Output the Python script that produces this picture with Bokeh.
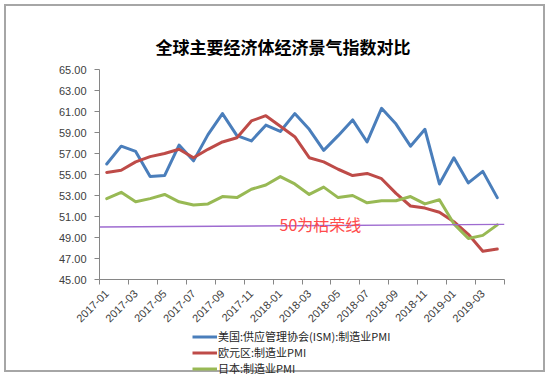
import math
from bokeh.plotting import figure
from bokeh.layouts import column
from bokeh.models import FixedTicker, Legend, LegendItem, Label, Range1d, NumeralTickFormatter
from bokeh.embed import file_html
from bokeh.resources import INLINE

# ---- data ----
months = ["2017-01", "2017-02", "2017-03", "2017-04", "2017-05", "2017-06", "2017-07",
          "2017-08", "2017-09", "2017-10", "2017-11", "2017-12", "2018-01", "2018-02",
          "2018-03", "2018-04", "2018-05", "2018-06", "2018-07", "2018-08", "2018-09",
          "2018-10", "2018-11", "2018-12", "2019-01", "2019-02", "2019-03", "2019-04"]
us_ism = [56.0, 57.7, 57.2, 54.8, 54.9, 57.8, 56.3, 58.8, 60.8, 58.7, 58.2, 59.7, 59.1, 60.8,
          59.3, 57.3, 58.7, 60.2, 58.1, 61.3, 59.8, 57.7, 59.3, 54.1, 56.6, 54.2, 55.3, 52.8]
euro_pmi = [55.2, 55.4, 56.2, 56.7, 57.0, 57.4, 56.6, 57.4, 58.1, 58.5, 60.1, 60.6, 59.6, 58.6,
            56.6, 56.2, 55.5, 54.9, 55.1, 54.6, 53.2, 52.0, 51.8, 51.4, 50.5, 49.3, 47.7, 47.9]
japan_pmi = [52.7, 53.3, 52.4, 52.7, 53.1, 52.4, 52.1, 52.2, 52.9, 52.8, 53.6, 54.0, 54.8, 54.1,
             53.1, 53.8, 52.8, 53.0, 52.3, 52.5, 52.5, 52.9, 52.2, 52.6, 50.3, 48.9, 49.2, 50.2]
series_names = ["美国:供应管理协会(ISM):制造业PMI", "欧元区:制造业PMI", "日本:制造业PMI"]
y_ticks = [45, 47, 49, 51, 53, 55, 57, 59, 61, 63, 65]
ref_line_x = [-0.5, 27.5]
ref_line_y = [50.0, 50.25]
ref_text = "50为枯荣线"
title_text = "全球主要经济体经济景气指数对比"

idx = list(range(len(months)))
series = [us_ism, euro_pmi, japan_pmi]
colors = ["#4A7EBB", "#BE4B48", "#98B954"]

p = figure(frame_width=405, frame_height=210, output_backend="svg", toolbar_location=None,
           x_range=Range1d(-0.5, len(months) - 0.5), y_range=Range1d(45, 65),
           min_border_left=99, min_border_right=45, min_border_top=69, min_border_bottom=46,
           title=title_text)
p.outline_line_color = None
p.background_fill_color = "white"
p.border_fill_color = None

p.title.align = "left"
p.title.offset = 56
p.title.text_font = "Noto Sans CJK SC"
p.title.text_font_size = "17px"
p.title.text_font_style = "bold"
p.title.text_color = "#000000"
p.title.standoff = 22

p.xgrid.visible = False
p.ygrid.visible = False

axis_color = "#868686"
label_color = "#404040"

xa = p.xaxis[0]
xa.ticker = FixedTicker(ticks=list(range(0, len(months), 2)),
                        minor_ticks=[i - 0.5 for i in range(0, len(months) + 1, 2)])
xa.major_label_overrides = {i: months[i] for i in range(0, len(months), 2)}
xa.major_label_orientation = math.pi / 4
xa.major_tick_out = 0
xa.major_tick_in = 0
xa.minor_tick_out = 5
xa.minor_tick_in = 0
xa.minor_tick_line_color = axis_color
xa.axis_line_color = axis_color
xa.major_label_standoff = 7
xa.major_label_text_font = "Liberation Sans"
xa.major_label_text_font_size = "11px"
xa.major_label_text_color = label_color

ya = p.yaxis[0]
ya.ticker = FixedTicker(ticks=y_ticks)
ya.formatter = NumeralTickFormatter(format="0.00")
ya.major_tick_out = 5
ya.major_tick_in = 0
ya.minor_tick_out = 0
ya.minor_tick_in = 0
ya.major_tick_line_color = axis_color
ya.axis_line_color = axis_color
ya.major_label_standoff = 8
ya.major_label_text_font = "Liberation Sans"
ya.major_label_text_font_size = "11px"
ya.major_label_text_color = label_color

for vals, c in zip(series, colors):
    p.line(idx, vals, line_color=c, line_width=3, line_join="round", line_cap="round")

p.line(ref_line_x, ref_line_y, line_color="#9E6BD0", line_width=1.5)

p.add_layout(Label(x=11.95, y=50.3, text=ref_text, text_color="#FF4B4B",
                   text_font="Noto Sans CJK SC", text_font_size="16px",
                   text_baseline="middle", text_align="left"))

# ---- legend strip below the chart (same frame geometry, series kept out of view) ----
lg = figure(frame_width=405, frame_height=48, output_backend="svg", toolbar_location=None,
            x_range=Range1d(-0.5, len(months) - 0.5), y_range=Range1d(0, 1),
            x_axis_type=None, y_axis_type=None,
            min_border_left=99, min_border_right=45, min_border_top=0, min_border_bottom=0)
lg.outline_line_color = None
lg.background_fill_color = None
lg.border_fill_color = None
lg.xgrid.visible = False
lg.ygrid.visible = False
legend_renderers = [lg.line(idx, vals, line_color=c, line_width=3) for vals, c in zip(series, colors)]

legend = Legend(items=[LegendItem(label=n, renderers=[r]) for n, r in zip(series_names, legend_renderers)],
                location=(93, 0), orientation="vertical")
legend.label_text_font = "Noto Sans CJK SC"
legend.label_text_font_size = "11px"
legend.label_text_color = "#262626"
legend.glyph_width = 25
legend.glyph_height = 15
legend.label_height = 15
legend.label_standoff = 1
legend.spacing = 0
legend.padding = 0
legend.margin = 0
legend.border_line_color = None
legend.background_fill_alpha = 0
lg.add_layout(legend)

layout = column(p, lg)
layout.styles = {"box-shadow": "inset 0 0 0 4px white, inset 0 0 0 6px #a6a6a6",
                 "background-color": "white"}

open("out.html", "w").write(file_html(layout, INLINE))
